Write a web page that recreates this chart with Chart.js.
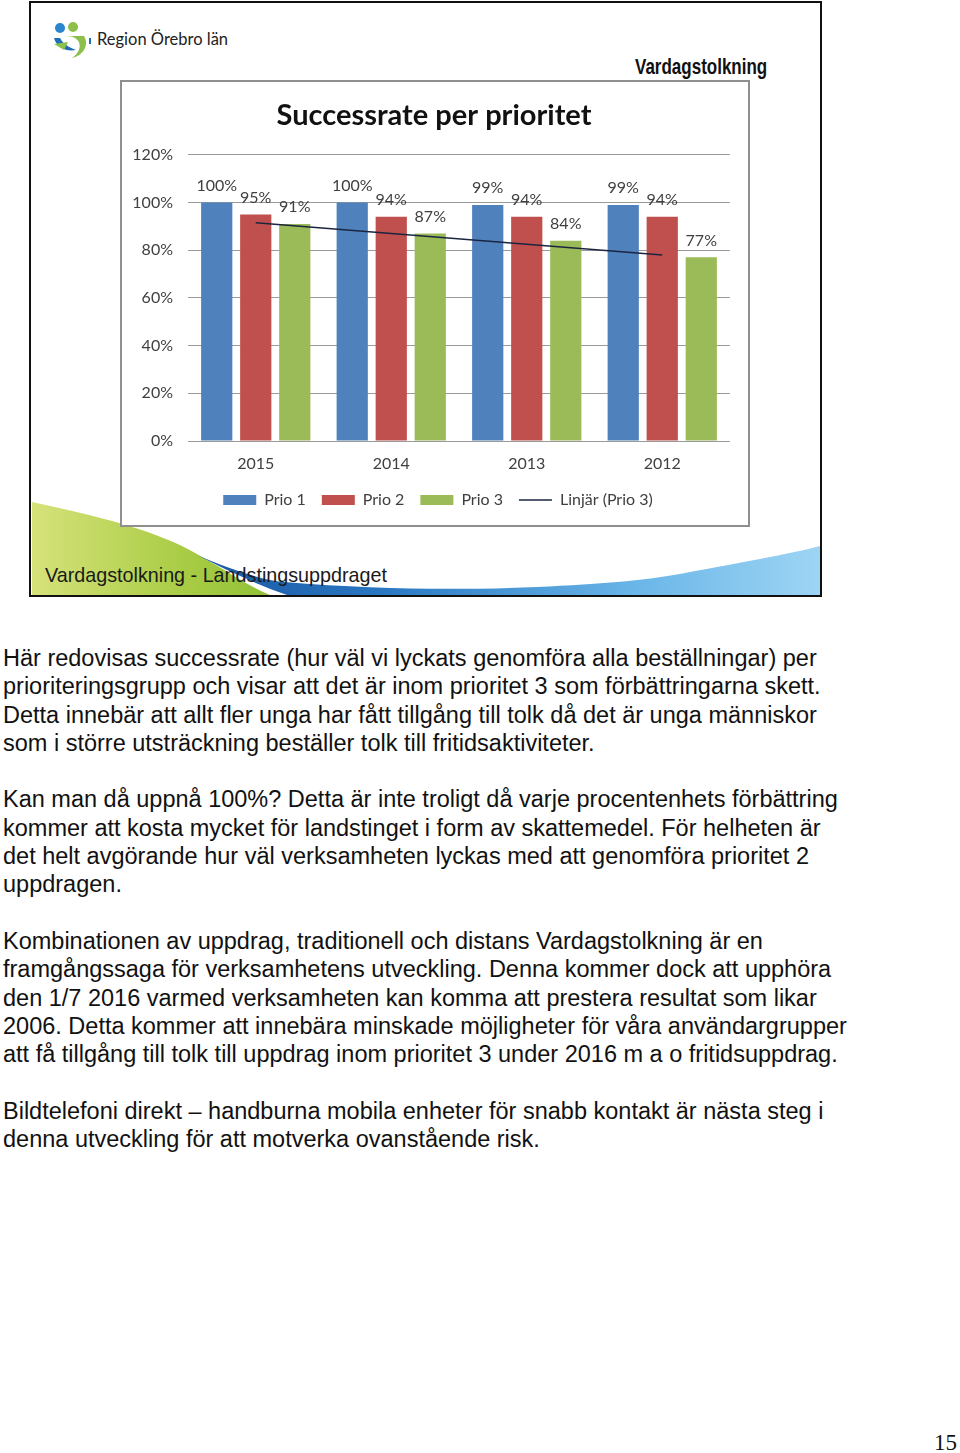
<!DOCTYPE html>
<html>
<head>
<meta charset="utf-8">
<script src="https://cdn.jsdelivr.net/npm/chart.js@4"></script>
<style>
  html, body { margin: 0; padding: 0; background: #fff; }
  body { width: 960px; height: 1453px; position: relative; overflow: hidden; }
  #slide { position: absolute; left: 29px; top: 1px; width: 793px; height: 596px; border: 2px solid #111; box-sizing: border-box; overflow: hidden; background: #fff; }
  #waves { position: absolute; left: 0; top: 0; }
  #logoText { position: absolute; left: 66px; top: 26px; font: 16.5px Lato, sans-serif; color: #222; white-space: nowrap; }
  #vtitle { position: absolute; left: 604px; top: 52px; font: bold 20px "Liberation Sans", sans-serif; color: #111; transform: scale(0.85, 1.1); transform-origin: left center; white-space: nowrap; }
  #footer { position: absolute; left: 14px; top: 560px; font: 21px "Liberation Sans", sans-serif; color: #1a1a1a; white-space: nowrap; transform: scaleX(0.94); transform-origin: left center; }
  #chartBox { position: absolute; left: 120px; top: 80px; width: 630px; height: 447px; border: 2px solid #8f8f8f; box-sizing: border-box; background: #fff; }
  #chartBox canvas { position: absolute; left: 0; top: 0; }
  #body { position: absolute; left: 3px; top: 644px; font: 23.5px "Liberation Sans", Arial, sans-serif; line-height: 28.3px; color: #111; white-space: pre; }
  #pageno { position: absolute; left: 934px; top: 1430px; font: 23px "Liberation Serif", serif; color: #111; }
</style>
</head>
<body>
<div id="slide">
  <svg id="waves" width="793" height="596" viewBox="29 1 793 596">
    <defs>
      <linearGradient id="gGreen" x1="0" y1="0" x2="1" y2="0">
        <stop offset="0" stop-color="#d6e27a"/>
        <stop offset="0.6" stop-color="#a9cc45"/>
        <stop offset="1" stop-color="#8dbf34"/>
      </linearGradient>
      <linearGradient id="gBlue" x1="0" y1="0" x2="1" y2="0">
        <stop offset="0" stop-color="#1a56a3"/>
        <stop offset="0.3" stop-color="#2a78c2"/>
        <stop offset="0.7" stop-color="#6ab6e8"/>
        <stop offset="1" stop-color="#9fd5f4"/>
      </linearGradient>
    </defs>
    <path d="M30,500 C 100,515 160,530 200,555 C 235,575 255,590 282,598 L30,598 Z" fill="url(#gGreen)"/>
    <path d="M195,553 C 230,568 260,578 282,580 C 380,588 460,588 535,585 C 600,582 650,578 688,570 C 740,560 790,552 822,543 L822,598 L300,598 C 262,586 228,570 195,553 Z" fill="url(#gBlue)"/>
    <!-- logo -->
    <circle cx="58" cy="26" r="5" fill="#2a86cc"/>
    <circle cx="71" cy="25" r="5" fill="#8cc04a"/>
    <path d="M52,36 C 54,44 62,50 74,48 C 70,46 62,44 58,36 Z" fill="#1f6fb8"/>
    <path d="M64,34 C 80,34 82,48 70,56 C 80,54 88,44 82,34 Z" fill="#8cc04a"/>
    <path d="M52,42 L66,40 L62,48 Z" fill="#8cc04a"/>
    <rect x="87" y="36" width="2" height="6" fill="#1f6fb8"/>
  </svg>
  <div id="logoText">Region Örebro län</div>
  <div id="vtitle">Vardagstolkning</div>
  <div id="footer">Vardagstolkning - Landstingsuppdraget</div>
</div>
<div id="chartBox"><canvas id="c" width="626" height="443"></canvas></div>
<div id="body">Här redovisas successrate (hur väl vi lyckats genomföra alla beställningar) per
prioriteringsgrupp och visar att det är inom prioritet 3 som förbättringarna skett.
Detta innebär att allt fler unga har fått tillgång till tolk då det är unga människor
som i större utsträckning beställer tolk till fritidsaktiviteter.

Kan man då uppnå 100%? Detta är inte troligt då varje procentenhets förbättring
kommer att kosta mycket för landstinget i form av skattemedel. För helheten är
det helt avgörande hur väl verksamheten lyckas med att genomföra prioritet 2
uppdragen.

Kombinationen av uppdrag, traditionell och distans Vardagstolkning är en
framgångssaga för verksamhetens utveckling. Denna kommer dock att upphöra
den 1/7 2016 varmed verksamheten kan komma att prestera resultat som likar
2006. Detta kommer att innebära minskade möjligheter för våra användargrupper
att få tillgång till tolk till uppdrag inom prioritet 3 under 2016 m a o fritidsuppdrag.

Bildtelefoni direkt – handburna mobila enheter för snabb kontakt är nästa steg i
denna utveckling för att motverka ovanstående risk.</div>
<div id="pageno">15</div>
<script>
const categories = ['2015', '2014', '2013', '2012'];
const prio1 = [100, 100, 99, 99];
const prio2 = [95, 94, 94, 94];
const prio3 = [91, 87, 84, 77];
const trendPrio3 = [91.5, 87, 82.5, 78];
const seriesNames = ['Prio 1', 'Prio 2', 'Prio 3', 'Linjär (Prio 3)'];
const yTicks = [0, 20, 40, 60, 80, 100, 120];
const chartTitle = 'Successrate per prioritet';

const FONT = 'Lato, "Open Sans", sans-serif';

const dataLabels = {
  id: 'dataLabels',
  afterDatasetsDraw(chart) {
    const ctx = chart.ctx;
    ctx.save();
    ctx.font = '16px ' + FONT;
    ctx.fillStyle = '#404040';
    ctx.textAlign = 'center';
    ctx.textBaseline = 'middle';
    chart.data.datasets.forEach((ds, i) => {
      if (ds.type === 'line') return;
      const meta = chart.getDatasetMeta(i);
      meta.data.forEach((bar, j) => {
        ctx.fillText(ds.data[j] + '%', bar.x, bar.y - 17);
      });
    });
    ctx.restore();
  }
};

// nudge the title and legend boxes horizontally to match the slide's placement
const boxNudge = {
  id: 'boxNudge',
  afterLayout(chart) {
    if (chart.legend) { chart.legend.left += 12; chart.legend.right += 12; }
    if (chart.titleBlock) { chart.titleBlock.left += 8; chart.titleBlock.right += 8; }
  }
};

new Chart(document.getElementById('c'), {
  type: 'bar',
  data: {
    labels: categories,
    datasets: [
      { label: seriesNames[0], data: prio1, backgroundColor: '#4f81bd', borderWidth: 0, order: 1 },
      { label: seriesNames[1], data: prio2, backgroundColor: '#c0504d', borderWidth: 0, order: 1 },
      { label: seriesNames[2], data: prio3, backgroundColor: '#9bbb59', borderWidth: 0, order: 1 },
      { type: 'line', label: seriesNames[3], data: trendPrio3, borderColor: '#1c2540', backgroundColor: '#1c2540',
        borderWidth: 1.5, pointRadius: 0, pointStyle: 'line', fill: false, tension: 0, order: 0 }
    ]
  },
  options: {
    responsive: false,
    animation: false,
    devicePixelRatio: 1,
    layout: { padding: { left: 0, right: 18, top: 0, bottom: 7 } },
    datasets: { bar: { categoryPercentage: 0.864, barPercentage: 0.8 } },
    plugins: {
      title: {
        display: true, text: chartTitle, color: '#111',
        font: { family: FONT, size: 29, weight: 'bold' },
        padding: { top: 16, bottom: 22 }
      },
      legend: {
        position: 'bottom',
        labels: {
          font: { family: FONT, size: 16 }, color: '#404040',
          usePointStyle: true, pointStyleWidth: 33, boxWidth: 33, boxHeight: 10, padding: 16,
          generateLabels(chart) {
            return chart.data.datasets.map((ds, i) => ({
              text: ds.label,
              fillStyle: ds.backgroundColor,
              strokeStyle: ds.type === 'line' ? ds.borderColor : ds.backgroundColor,
              lineWidth: ds.type === 'line' ? 1.5 : 0,
              pointStyle: ds.type === 'line' ? 'line' : 'rect',
              datasetIndex: i,
              hidden: false,
              fontColor: '#404040'
            }));
          }
        }
      },
      tooltip: { enabled: false }
    },
    scales: {
      x: {
        grid: { display: false, drawTicks: false },
        border: { display: false },
        ticks: { font: { family: FONT, size: 16 }, color: '#404040', padding: 13 },
        afterFit(scale) { scale.height = 35; }
      },
      y: {
        min: 0, max: 120,
        afterBuildTicks(scale) { scale.ticks = yTicks.map(v => ({ value: v })); },
        grid: { color: '#9a9a9a', lineWidth: 1, drawTicks: false },
        border: { display: false },
        ticks: { font: { family: FONT, size: 16 }, color: '#404040', padding: 15, callback: v => v + '%' },
        afterFit(scale) { scale.width = 66; }
      }
    }
  },
  plugins: [dataLabels, boxNudge]
});
</script>
</body>
</html>
